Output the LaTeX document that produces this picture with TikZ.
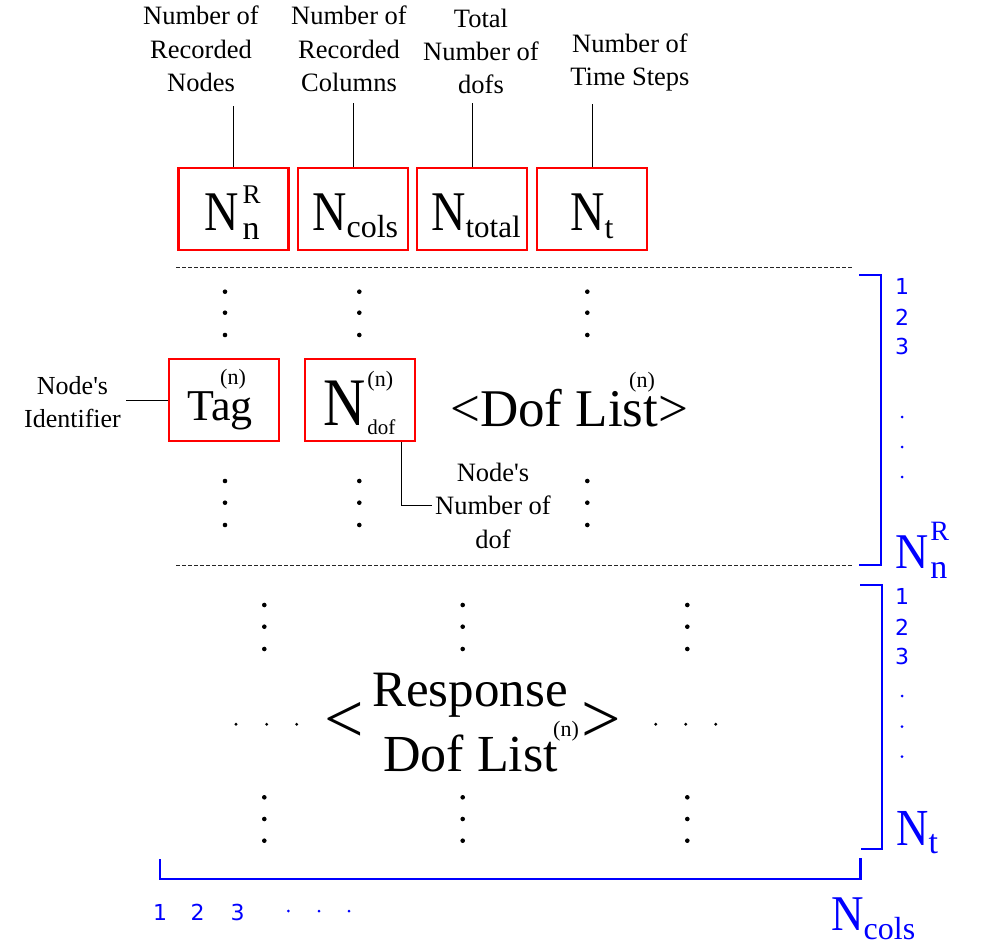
\documentclass[tikz,border=0pt]{standalone}
\usepackage{fontspec}
\setmainfont{Liberation Serif}
\newfontfamily\numfont{DejaVu Sans}
\usepackage{graphicx}
\newcommand\fsz[1]{\fontsize{#1}{#1}\selectfont}
\newcommand\bigN[2]{{\fsz{#1}\scalebox{#2}[1]{N}}}
\tikzset{
  redbox/.style={draw=red, line width=2.5pt, minimum width=110pt, minimum height=82pt, inner sep=0pt},
  txt/.style={inner sep=0pt, anchor=base west},
  toplabel/.style={inner sep=0pt, anchor=north, align=center, font=\fontsize{26.5}{33.3}\selectfont},
  bluenum/.style={inner sep=0pt, anchor=base, text=blue, font=\numfont\fsz{22}},
  bracket/.style={draw=blue, line width=2.5pt},
  conn/.style={draw=black, line width=1pt},
  sepline/.style={draw=black!85, line width=0.8pt, dash pattern=on 4pt off 2pt},
}
\begin{document}
\begin{tikzpicture}[x=1pt,y=-1pt]
\useasboundingbox (0,0) rectangle (1007,947);

% ---------- header labels ----------
\node[toplabel] (l1) at (201,5.9) {Number of\\Recorded\\Nodes};
\node[toplabel] (l2) at (349,5.9) {Number of\\Recorded\\Columns};
\node[toplabel] (l3) at (481,8.6) {Total\\Number of\\dofs};
\node[toplabel] (l4) at (630,33.6) {Number of\\Time Steps};

% ---------- header boxes ----------
\node[redbox] (b1) at (233.5,209) {};
\node[redbox] (b2) at (353,209) {};
\node[redbox] (b3) at (472,209) {};
\node[redbox] (b4) at (592,209) {};

\node[txt] (c1) at (204,230) {\bigN{56}{0.85}\kern4pt\rlap{\raisebox{27pt}{\fsz{27}R}}\raisebox{-9pt}{\fsz{34}n}};
\node[txt] (c2) at (312,230) {\bigN{56}{0.85}\raisebox{-7pt}{\fsz{32}cols}};
\node[txt] (c3) at (431,230) {\bigN{56}{0.85}\raisebox{-7pt}{\fsz{31}total}};
\node[txt] (c4) at (570,230) {\bigN{56}{0.85}\raisebox{-8pt}{\fsz{32}t}};

\draw[conn] (b1.north) -- ++(0,-61);
\draw[conn] (b2.north) -- ++(0,-64);
\draw[conn] (b3.north) -- ++(0,-64);
\draw[conn] (b4.north) -- ++(0,-63);

% ---------- separators ----------
\draw[sepline] (176,267) coordinate (s1a) -- (852,267) coordinate (s1b);
\draw[sepline] (176,565) coordinate (s2a) -- (852,565) coordinate (s2b);

% ---------- node record ----------
\node[redbox] (tagbox) at (224,400) {};
\node[redbox] (ndofbox) at (360,400) {};
\node[txt] (tagtxt) at (187,420) {\fsz{44}Tag};
\node[txt] (tagn) at (220,384) {\fsz{22}(n)};
\node[txt] (ndoftxt) at (323,425) {\bigN{68}{0.86}\kern2pt\rlap{\raisebox{38.5pt}{\fsz{22}(n)}}\raisebox{-9pt}{\fsz{21}dof}};
\node[txt] (doflist) at (450,426.7) {\fsz{53}<Dof List>};
\node[txt] (dofn) at (629,387) {\fsz{22}(n)};

\node[inner sep=0pt, anchor=north, align=center, font=\fontsize{26}{32.7}\selectfont] (ident) at (72.5,376.2) {Node\textquotesingle s\\Identifier};
\node[inner sep=0pt, anchor=north, align=center, font=\fontsize{26.5}{33.5}\selectfont] (ndofl) at (493,462.9) {Node\textquotesingle s\\Number of\\dof};

\draw[conn] (tagbox.west) -- ++(-42,0);
\draw[conn] ([xshift=-14.3pt]ndofbox.south east) -- ++(0,62.75) -- ++(30,0);

% dots in node section
\foreach \x in {225,359.3,587.3}{
  \foreach \y in {291.7,312.7,335,481,502.7,525}{
    \fill (\x,\y) circle[radius=2.3pt];
  }
}

% ---------- response section ----------
\node[txt] (lt) at (324,742) {\fsz{70}<};
\node[txt] (gt) at (581,742) {\fsz{70}>};
\node[txt] (resp) at (372,706) {\fsz{51}Response};
\node[txt] (dl2) at (383,771.7) {\fsz{52}Dof List};
\node[txt] (dl2n) at (553,736.5) {\fsz{22}(n)};

\foreach \x in {264.3,462.7,687.3}{
  \foreach \y in {605,626.7,649,797.3,819,840.7}{
    \fill (\x,\y) circle[radius=2.3pt];
  }
}
\foreach \x in {236,266.7,296.7,655.7,685.7,715.7}{
  \fill (\x,724.3) circle[radius=1.6pt];
}

% ---------- blue brackets ----------
\draw[bracket] (859,275) -- (881,275) -- (881,565) -- (859,565);
\draw[bracket] (860,585) -- (882,585) -- (882,849) -- (861,849);
\draw[bracket] (160,859) -- (160,879) -- (860.7,879) -- (860.7,858);

\node[bluenum] (r1) at (902,294) {1};
\node[bluenum] (r2) at (902,325) {2};
\node[bluenum] (r3) at (902,354) {3};
\node[bluenum] (t1) at (902,604) {1};
\node[bluenum] (t2) at (902,635) {2};
\node[bluenum] (t3) at (902,664) {3};
\node[bluenum] (k1) at (160,920) {1};
\node[bluenum] (k2) at (197.7,920) {2};
\node[bluenum] (k3) at (237.7,920) {3};

\foreach \y in {417,447,477,696,726.7,756.7}{
  \fill[blue] (902,\y) circle[radius=1.5pt];
}
\foreach \x in {288.3,319,349}{
  \fill[blue] (\x,911) circle[radius=1.5pt];
}

\node[txt, text=blue] (bNR) at (895,568) {\bigN{50}{0.92}\kern2pt\rlap{\raisebox{27.5pt}{\fsz{28}R}}\raisebox{-10pt}{\fsz{34}n}};
\node[txt, text=blue] (bNt) at (896,845) {\bigN{52}{0.86}\raisebox{-8pt}{\fsz{34}t}};
\node[txt, text=blue] (bNc) at (831,930) {\bigN{50}{0.9}\raisebox{-9pt}{\fsz{32}cols}};
\end{tikzpicture}
\end{document}
